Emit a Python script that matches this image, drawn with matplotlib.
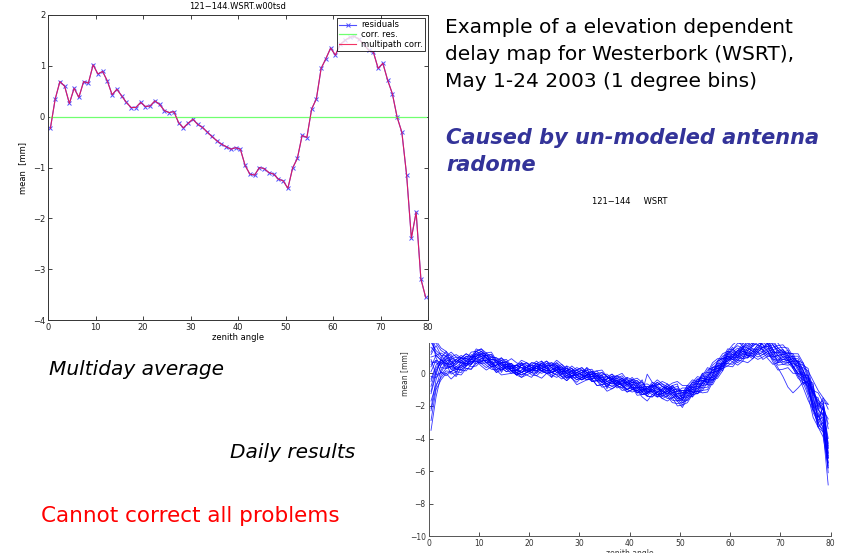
import matplotlib.pyplot as plt
import numpy as np

# 1-degree zenith-angle bins (centres)
zenith = np.arange(0.5, 80, 1.0)

# multiday average, mean residual per bin [mm]
residuals = [
    -0.23, 0.34, 0.69, 0.60, 0.26, 0.56, 0.38, 0.69, 0.66, 1.02,
    0.84, 0.89, 0.70, 0.43, 0.54, 0.41, 0.28, 0.18, 0.18, 0.28,
    0.20, 0.21, 0.31, 0.24, 0.12, 0.08, 0.10, -0.12, -0.22, -0.13,
    -0.05, -0.15, -0.21, -0.30, -0.39, -0.47, -0.54, -0.59, -0.64, -0.61,
    -0.64, -0.96, -1.13, -1.15, -1.00, -1.02, -1.10, -1.13, -1.23, -1.26,
    -1.41, -1.01, -0.82, -0.37, -0.41, 0.15, 0.35, 0.95, 1.14, 1.35,
    1.21, 1.42, 1.50, 1.56, 1.58, 1.52, 1.42, 1.31, 1.27, 0.95,
    1.05, 0.72, 0.45, -0.01, -0.31, -1.15, -2.39, -1.88, -3.19, -3.55,
]
# fitted multipath correction (follows the residuals)
multipath_corr = list(residuals)
corr_res = np.array(residuals) - np.array(multipath_corr)

# daily results: band centre [mm] and per-day departures from it [0.15 mm]
daily_centre = [
    0.1, 0.5, 0.5, 0.6, 0.4, 0.4, 0.5, 0.6, 0.7, 0.9,
    0.9, 0.8, 0.7, 0.5, 0.5, 0.4, 0.3, 0.2, 0.2, 0.2,
    0.2, 0.3, 0.3, 0.3, 0.2, 0.2, 0.1, 0.0, 0.0, -0.1,
    -0.1, -0.1, -0.2, -0.3, -0.4, -0.5, -0.5, -0.6, -0.6, -0.7,
    -0.7, -0.9, -1.0, -1.1, -1.0, -1.0, -1.1, -1.1, -1.2, -1.4,
    -1.5, -1.2, -1.0, -0.8, -0.6, -0.4, -0.1, 0.3, 0.6, 0.9,
    1.0, 1.1, 1.2, 1.4, 1.5, 1.6, 1.6, 1.5, 1.3, 1.1,
    1.0, 0.8, 0.6, 0.3, -0.1, -0.6, -1.5, -2.4, -2.4, -3.7,
]
daily_dev = [
    [-8, -3, 2, 3, 1, -1, 0, 2, 1, 3, 2, 1, 0, -1, -2, 0, 1, 2, 1, 0,
     -1, -2, 0, 1, 2, 3, 1, 0, -1, -2, -1, 0, 2, 1, 0, -1, -2, -1, 0, 1,
     2, 3, 1, 0, -2, -3, -1, 0, 2, 1, 0, -1, -3, -2, 0, 1, 2, 1, 0, -1,
     0, 2, 3, 1, -1, -2, 0, 1, 3, 2, 1, 0, -1, -2, 0, 3, 5, 2, -4, -10],
    [12, 6, 4, 3, 5, 2, 3, 4, 2, 3, 4, 3, 2, 3, 1, 2, 4, 3, 2, 1,
     2, 3, 1, 0, 2, 1, 3, 2, 1, 2, 3, 1, 0, 2, 3, 2, 1, 3, 4, 2,
     1, 2, 3, 1, 2, 4, 3, 2, 1, 3, 2, 1, 3, 4, 2, 0, 1, 3, 2, 4,
     3, 1, 2, 4, 6, 5, 3, 2, 1, 3, 4, 5, 3, 2, 4, 6, 3, 8, 4, 12],
    [-20, -10, -6, -4, -5, -3, -4, -2, -3, -1, -2, -3, -1, -2, -4, -3, -2, -1, -3, -2,
     -1, -3, -4, -2, -1, -2, -3, -1, -2, -4, -3, -2, -1, -3, -2, -4, -3, -1, -2, -3,
     -2, -1, -3, -4, -2, -1, -3, -2, -4, -3, -2, -3, -1, -2, -4, -5, -3, -2, -1, -3,
     -4, -2, -3, -5, -4, -2, -3, -1, -4, -6, -5, -3, -4, -2, -3, -5, -8, -6, -10, -14],
    [5, -4, 3, -2, 4, -3, 2, -1, 3, 0, -2, 3, -1, 2, -3, 1, 2, -2, 3, -1,
     1, -2, 3, 0, -3, 2, -1, 3, -2, 1, 0, 3, -2, -1, 2, -3, 1, 2, -1, 3,
     -2, 1, 4, -1, 2, -3, 1, -2, 3, 5, -1, 2, -3, 1, 4, -2, 3, 1, -3, 2,
     4, -1, 3, -3, 2, 5, -2, 4, 1, -3, 2, 4, -2, 3, -4, 1, 6, -5, 3, -6],
    [-15, -6, 0, 2, 1, 3, 1, -1, 0, 2, 3, 2, 2, 1, -1, -2, -1, 0, 1, 1,
     0, 0, -1, 1, 2, 2, 0, -2, -1, 0, 1, 2, 1, -1, -1, 0, 1, 1, -1, -2,
     -1, 0, 2, 3, 1, -1, -2, -2, 0, 2, 3, 1, -1, -3, -3, -1, 0, 2, 3, 2,
     0, -2, -1, 1, 3, 2, 1, -1, -2, 0, 1, 3, 4, 2, 0, -3, -5, -2, 2, -8],
    [3, 2, 1, -1, 0, 1, 2, 0, -1, 1, 2, 0, -1, 1, 3, 2, 0, -1, 0, 2,
     1, -1, 0, 2, 1, -1, 0, 1, 3, 2, 0, -2, -1, 1, 2, 0, -1, 0, 2, 1,
     -1, -2, 0, 1, -1, 0, 2, 1, -1, -2, 0, 2, 1, -1, 0, 1, 3, 2, 0, -1,
     1, 2, 0, -2, -1, 1, 0, -1, -3, -5, -8, -11, -12, -8, -3, 0, 2, 4, 1, 6],
    [8, 10, 7, 5, 4, 2, 3, 1, 2, 0, 1, 2, 3, 2, 0, 1, -1, 0, 2, 3,
     2, 1, 0, -1, 1, 3, 2, 0, 1, -1, -2, 0, 1, 2, 0, -1, 1, 3, 2, 0,
     1, 2, 0, -1, 1, 3, 2, 1, 0, -1, 1, 2, 3, 1, 0, 2, 4, 3, 2, 1,
     3, 5, 4, 6, 8, 7, 9, 6, 5, 3, 2, 1, 3, 5, 4, 2, 0, -2, 0, -4],
    [-24, -13, -4, -2, 0, -1, -2, -3, -1, 0, -1, -2, -3, -2, 0, 1, -1, -2, -3, -1,
     0, 1, -1, -2, -1, 0, -2, -3, -1, 1, 0, -1, -2, -1, 1, 2, 0, -1, -3, -2,
     0, 1, -1, -2, -3, -1, 0, 2, 1, -1, -3, -4, -2, 0, 1, -1, -3, -2, 0, 1,
     -1, -3, -2, 0, -2, -4, -3, -1, 1, 0, -2, -1, 1, 3, 2, 0, -4, -6, -8, -21],
    [18, 9, 6, 4, 2, 3, 4, 2, 1, 3, 4, 2, 1, 2, 3, 1, 0, 2, 1, -1,
     0, 2, 1, 3, 2, 0, -1, 1, 2, 0, 1, 3, 2, 0, 1, 2, 3, 1, -1, 0,
     2, 1, -1, 7, 3, 1, 0, -1, 2, 4, 2, 0, 1, 3, 2, 4, 3, 1, 0, 2,
     1, 0, 2, 3, 1, 2, 4, 2, 0, 1, 3, 2, 0, 1, 3, 5, 7, 9, 6, 12],
    [0, 2, -3, -5, -2, -4, -1, 0, -2, -3, -1, 0, 1, -1, -2, 0, 2, 1, -1, -2,
     -3, -1, 0, -2, -3, -1, 1, 0, -2, -1, 0, 1, -1, -3, -2, 0, 1, -1, -2, 0,
     2, 1, -1, -2, 0, 1, -1, -3, -2, 0, -2, -1, 1, 0, -2, -3, -1, 1, 2, 0,
     -2, -4, -3, -1, 0, -2, -5, -3, -1, 2, 3, 1, -2, -4, -3, -1, -6, -4, -8, -10],
    [6, 4, 2, 1, 3, 4, 2, 3, 1, 0, 2, 3, 4, 2, 1, -1, 0, 1, 3, 2,
     0, -1, 1, 2, 3, 1, 0, 2, 1, 3, 2, 0, -1, 1, 0, 2, 1, -1, 0, 1,
     3, 2, 0, 1, 3, 2, 4, 3, 1, 0, -1, 1, 3, 2, 1, 3, 5, 4, 2, 1,
     -1, 1, 3, 4, 2, 3, 1, 0, 2, 4, 5, 4, 2, 0, -1, 2, 4, 2, 6, 10],
    [-6, -2, 1, 0, -1, -2, -3, -1, 0, -1, -3, -4, -2, 0, 1, -1, -2, 0, -1, 1,
     2, 0, -1, -2, 0, 1, -1, -2, 0, 2, 1, -1, 0, 1, -1, -2, 0, 2, 3, 1,
     0, -1, -2, 0, -1, -3, -2, 0, -1, -2, -1, 0, 2, 3, 1, -1, -2, -4, -3, -1,
     0, 2, 1, -1, -3, -5, -4, -2, 0, -1, -3, -2, 0, 1, 2, 0, -3, -6, -4, -13],
    [14, 3, -1, -2, 0, 2, 1, 0, 1, 2, 0, -1, 1, 2, 0, -1, 0, 1, 2, 3,
     1, 0, 2, 1, -1, 0, 1, 3, 2, 0, -1, 0, 2, 3, 1, 0, -1, 1, 2, 0,
     -2, -1, 1, 0, 2, 1, -1, 0, 3, 2, 4, 2, -1, -2, 0, 2, 1, -1, -2, 0,
     2, 3, 1, 2, 4, 6, 5, 3, 1, 0, -1, 1, 3, 2, 0, -2, -4, 3, 1, -2],
    [-12, -8, -5, -3, -2, 0, -1, 1, 0, -2, -1, 0, -2, -3, -1, 0, 1, -1, -2, -1,
     0, 1, 0, -1, -2, -3, -1, 0, 1, -1, -2, -1, 1, 0, -1, 1, 2, 0, -1, -2,
     -1, 0, 1, -2, -3, -1, 1, 2, 0, -1, 0, 1, -1, -3, -2, 1, 2, 0, -2, -3,
     -2, 0, 1, -1, -2, 0, -1, -3, -2, -4, -3, -1, -2, -3, -5, -7, -5, -3, -6, -9],
    [2, 4, 5, 3, 6, 4, 3, 2, 4, 3, 1, 2, 0, 1, 2, 3, 1, 0, -1, 1,
     3, 2, 0, 1, 3, 2, 1, -1, 0, 2, 3, 1, 2, 0, -1, 1, 2, 3, 1, 0,
     1, 3, 2, 0, -1, 1, 0, 2, 4, 6, 5, 3, 1, 2, 4, 3, 1, -1, 0, 2,
     3, 4, 2, 0, 1, 3, 2, 4, 6, 5, 3, 2, 1, 3, 5, 4, 1, -3, -2, -6],
    [-3, 0, 2, 0, -3, -2, 0, 1, -1, 0, 1, -1, -2, 0, 1, 2, 0, -2, -1, 0,
     1, 2, 1, 0, -1, 0, 2, 1, -1, -2, -1, 1, 2, 1, 0, -1, -2, 0, 1, 2,
     1, 0, -2, -1, 1, 2, 0, -1, -3, -2, -4, -2, 0, 1, 2, 0, -1, 0, 1, 3,
     2, 0, -2, -3, -1, 1, 3, 2, 0, 1, 2, 0, -1, -2, 1, 3, 1, 6, -2, -16],
    [10, 5, 3, 5, 2, 1, 3, 2, 0, -1, 0, 2, 3, 1, -1, -2, 0, 2, 3, 1,
     -1, 0, 2, 3, 1, 0, -2, -1, 1, 0, -1, -2, 0, 1, 3, 2, 0, -2, -1, 1,
     0, -2, -1, 2, 1, 3, 2, 0, -1, 1, 2, 3, 0, -1, 1, 0, -2, -1, 1, 3,
     5, 6, 3, 2, 0, -1, 2, 4, 3, 2, 0, -1, 1, 0, -2, 0, 3, 1, 4, 2],
    [-16, -9, -2, 1, -1, 0, -2, -1, 1, -1, -2, -1, 0, -1, 1, 0, -1, -2, 0, 1,
     0, -1, -2, -1, 0, 2, 0, -1, -2, -3, -1, 0, -2, -1, 0, -2, -3, -1, 1, 0,
     -1, -3, -2, -1, 0, -2, -3, -4, -2, 1, 2, 0, -2, -3, -1, 0, -2, -3, -2, 0,
     -1, -2, 0, 1, -1, -3, -2, 0, -1, -3, -2, 0, 2, 1, -1, -4, -2, 0, -7, -12],
    [4, 1, 0, 2, 4, 5, 3, 1, 2, 4, 3, 1, -1, 0, 2, 1, 0, 2, 4, 3,
     1, 0, -1, 0, 2, 4, 3, 1, 0, 1, 2, 0, 1, 3, 4, 2, 0, -1, 1, 3,
     2, 4, 3, 1, 0, -1, 1, 3, 2, 0, 1, 3, 4, 2, 3, 5, 2, 0, -1, 1,
     0, -1, 1, -2, -3, -1, 0, 2, 4, 3, 2, 3, 4, 6, 5, 3, 2, 5, 3, 4],
    [-9, -4, -3, -4, -2, -1, 0, -2, -3, -2, 0, 1, -1, -3, -2, 0, -1, -2, -1, 0,
     -2, -3, -1, 0, 1, -1, -2, -3, -1, 0, -2, -1, 0, -1, -3, -2, 0, 1, 0, -2,
     -3, -1, 0, 1, -1, -2, -1, 0, -2, -4, -3, -1, 0, -2, -3, -4, -2, -1, 0, -2,
     -3, -1, 0, -2, -3, -1, -2, -4, -5, -3, -1, 0, -1, -3, -2, 0, -2, -5, -7, -14],
    [7, 8, 4, 1, 0, 2, 3, 4, 2, 1, -1, 0, 2, 3, 2, 0, -1, 0, 2, 1,
     3, 2, 0, -1, 0, 1, 2, 0, -1, 0, 1, 2, 3, 1, 0, 1, 2, 0, -1, -2,
     0, 2, 1, -1, 0, 2, 3, 1, 0, 2, 3, 1, 0, 2, 1, -1, 0, 3, 4, 3,
     1, 2, 4, 5, 3, 4, 8, 6, 3, 1, 0, 2, 1, -1, 0, 2, -1, 1, -1, -8],
    [-2, -5, -3, 0, 1, -1, -2, 0, 1, 2, 1, -1, -2, 0, 1, 2, 1, -1, -2, -1,
     0, 1, -1, -2, -1, 0, 1, 2, 0, -1, -2, 0, 1, -1, -2, -1, 0, 1, -1, -3,
     -2, 0, 1, 2, 0, -2, -1, 1, 2, 0, -1, -3, -2, -1, 0, -2, -4, -3, -1, 0,
     1, -1, -2, 0, 2, 1, -1, -2, -3, -2, 0, 1, -1, -2, -1, -2, -3, -1, -5, -12],
    [16, 4, 2, 0, 1, 3, 1, 0, -1, 1, 2, 1, 0, -2, -1, 1, 2, 0, -1, 0,
     1, 2, 3, 1, -1, -2, 0, 1, 2, 1, 0, -1, 1, 2, 0, 1, 3, 2, 1, -1,
     1, 0, -1, 1, 2, 0, -2, -1, 1, 3, 1, 0, 2, 1, -1, -2, 0, 1, -1, -2,
     0, 1, -1, -3, -2, 0, 2, 1, -2, 0, 1, 3, 2, 4, 2, 1, 3, 4, 2, -10],
    [-4, -1, 1, 3, 2, 0, 1, 3, 2, 1, 3, 2, 1, 2, 0, -1, 1, 2, 1, 0,
     -1, 1, 2, 0, -1, 1, 0, -2, -1, 1, 2, 1, -1, 0, 2, 3, 1, 0, 2, 1,
     -1, -2, 0, 1, 2, 1, -1, 1, 3, 2, 0, -2, -1, 1, 3, 1, -1, -2, 0, 1,
     -1, 0, 2, -2, -4, -2, 0, 1, -1, -2, -1, 0, 2, 3, 1, -1, 2, 3, 5, -5],
]
DEV_UNIT = 0.15  # mm per departure step

W, H = 859, 553
fig = plt.figure(figsize=(W / 100, H / 100), dpi=100)
fig.patch.set_facecolor('white')


def box(l, t, r, b):
    return [l / W, 1 - b / H, (r - l) / W, (b - t) / H]


# ---- multiday average ----
ax1 = fig.add_axes(box(48, 15, 428, 320))
ax1.plot(zenith, residuals, color='#5050ff', lw=0.8, marker='x', ms=3.5,
         mew=0.7, label='residuals')
ax1.plot(zenith, corr_res, color='#70ff70', lw=0.9, label='corr. res.')
ax1.plot(zenith, multipath_corr, color='#f0104a', lw=0.8, alpha=0.85,
         label='multipath corr.')
ax1.set_xlim(0, 80)
ax1.set_ylim(-4, 2)
ax1.set_xticks(range(0, 81, 10))
ax1.set_yticks(range(-4, 3))
ax1.tick_params(direction='in', length=3, width=0.6, labelsize=6,
                top=True, right=True, pad=2, colors='#222222')
for s in ax1.spines.values():
    s.set_linewidth(0.7)
    s.set_color('#333333')
ax1.set_title('121\u2212144.WSRT.w00tsd', fontsize=6, pad=4)
ax1.set_xlabel('zenith angle', fontsize=6, labelpad=1)
ax1.set_ylabel('mean  [mm]', fontsize=6, labelpad=4)
leg = ax1.legend(loc='upper right', fontsize=6, frameon=True, fancybox=False,
                 borderaxespad=0.4, handlelength=2.0, borderpad=0.25,
                 labelspacing=0.1, handletextpad=0.6)
leg.get_frame().set_edgecolor('black')
leg.get_frame().set_linewidth(0.7)

# ---- daily results ----
ax2 = fig.add_axes(box(428.5, 343, 830.7, 536.3))
for dev in daily_dev:
    ax2.plot(zenith, np.array(daily_centre) + np.array(dev) * DEV_UNIT,
             color='#0000ff', lw=0.6, alpha=0.8)
ax2.set_xlim(0, 80)
ax2.set_ylim(-10, 1.86)
ax2.set_xticks(range(0, 81, 10))
ax2.set_yticks(range(-10, 1, 2))
for side in ('top', 'right'):
    ax2.spines[side].set_visible(False)
for side in ('left', 'bottom'):
    ax2.spines[side].set_linewidth(0.7)
    ax2.spines[side].set_color('#555555')
ax2.tick_params(direction='in', length=3, width=0.6, labelsize=5.5, pad=2,
                colors='#333333')
ax2.set_ylabel('mean [mm]', fontsize=5.5, color='#333333')
ax2.yaxis.set_label_coords(-0.048, 10 / 11.86)
ax2.set_xlabel('zenith angle', fontsize=5.5, labelpad=1, color='#333333')
fig.text(630 / W, 1 - 201 / H, '121\u2212144     WSRT', fontsize=6,
         ha='center', va='center')

# ---- slide text ----
def txt(x, y, s, **kw):
    fig.text(x / W, 1 - y / H, s, va='baseline', ha='left', **kw)


txt(445, 33, 'Example of a elevation dependent', fontsize=14.5)
txt(445, 60, 'delay map for Westerbork (WSRT),', fontsize=14.5)
txt(445, 87, 'May 1-24 2003 (1 degree bins)', fontsize=14.5)
txt(446, 144, 'Caused by un-modeled antenna', fontsize=15,
    fontweight='bold', style='italic', color='#333399')
txt(446, 171, 'radome', fontsize=15, fontweight='bold', style='italic',
    color='#333399')
txt(49, 375, 'Multiday average', fontsize=14.5, style='italic')
txt(230, 458, 'Daily results', fontsize=14.5, style='italic')
txt(41, 522, 'Cannot correct all problems', fontsize=15.5, color='#ff0000')

fig.savefig('out.png', dpi=100)
